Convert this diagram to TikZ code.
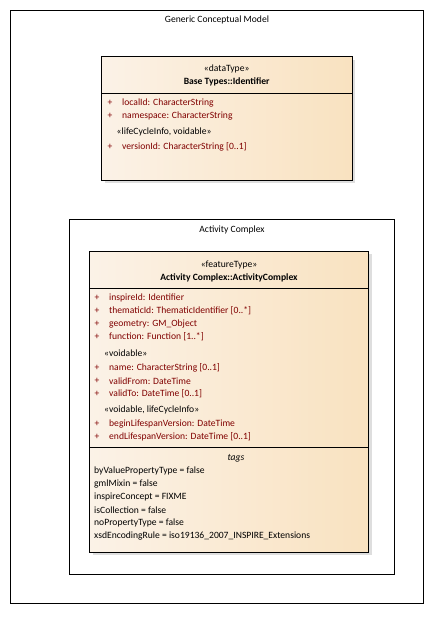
\documentclass[tikz,border=0pt]{standalone}
\usepackage{fontspec}
\setmainfont{Carlito}
\usetikzlibrary{calc}
\definecolor{attrred}{RGB}{128,0,0}
\definecolor{boxleft}{RGB}{251,242,231}
\definecolor{boxright}{RGB}{249,226,192}
\tikzset{
	frame/.style={draw=black, line width=0.9pt},
	classbox/.style={draw=black, line width=0.9pt, left color=boxleft, right color=boxright},
	shadowbox/.style={fill=black!13},
	divider/.style={draw=black, line width=0.9pt},
	txt/.style={inner sep=0pt, font=\fontsize{9.6}{11}\selectfont},
	attr/.style={txt, anchor=west, text=attrred},
	plain/.style={txt, anchor=west},
}
\newcommand{\attrline}[4]{%
	\node[attr] (p#1) at (#2, #3) {+};
	\node[attr] (a#1) at ($(p#1.west)+(14.5,0)$) {#4};
}

\begin{document}
\begin{tikzpicture}[x=1pt, y=-1pt]
		%%%%% START %%%%%
		\useasboundingbox (0, 0) rectangle (434, 633);
		
		% outer package
		\draw[frame] (10.5, 10.5) rectangle (423.5, 603);
		\node[txt] (gcm) at (217, 20) {Generic Conceptual Model};
		
		% data type Identifier
		\fill[shadowbox] (104.5, 59.5) rectangle (355, 183);
		\draw[classbox] (101.5, 56.5) rectangle (352, 180);
		\draw[divider] (101.5, 93) -- (352, 93);
		\node[txt] (dtst) at (226.7, 69) {«dataType»};
		\node[txt, font=\fontsize{9.6}{11}\selectfont\bfseries] (dtname) at (226.7, 82) {Base Types::Identifier};
		\attrline{1}{107.5}{103}{localId: CharacterString}
		\attrline{2}{107.5}{116}{namespace: CharacterString}
		\node[plain] (dtlc) at (116.5, 132) {«lifeCycleInfo, voidable»};
		\attrline{3}{107.5}{147}{versionId: CharacterString [0..1]}
		
		% inner package
		\draw[frame] (69.5, 219.5) rectangle (394.5, 574);
		\node[txt] (ac) at (232, 230) {Activity Complex};
		
		% feature type ActivityComplex
		\fill[shadowbox] (92.5, 254) rectangle (371.5, 555);
		\draw[classbox] (89.5, 251) rectangle (368.5, 552);
		\draw[divider] (89.5, 288.5) -- (368.5, 288.5);
		\draw[divider] (89.5, 447.5) -- (368.5, 447.5);
		\node[txt] (ftst) at (229, 265) {«featureType»};
		\node[txt, font=\fontsize{9.6}{11}\selectfont\bfseries] (ftname) at (229, 277.5) {Activity Complex::ActivityComplex};
		\attrline{4}{94.5}{298}{inspireId: Identifier}
		\attrline{5}{94.5}{311}{thematicId: ThematicIdentifier [0..*]}
		\attrline{6}{94.5}{324}{geometry: GM\_Object}
		\attrline{7}{94.5}{337}{function: Function [1..*]}
		\node[plain] (ftvd) at (104, 353) {«voidable»};
		\attrline{8}{94.5}{368}{name: CharacterString [0..1]}
		\attrline{9}{94.5}{381}{validFrom: DateTime}
		\attrline{10}{94.5}{394}{validTo: DateTime [0..1]}
		\node[plain] (ftlc) at (104, 410) {«voidable, lifeCycleInfo»};
		\attrline{11}{94.5}{424}{beginLifespanVersion: DateTime}
		\attrline{12}{94.5}{437}{endLifespanVersion: DateTime [0..1]}
		
		% tags
		\node[txt, font=\fontsize{9.6}{11}\selectfont\itshape] (tags) at (236, 458) {tags};
		\node[plain] (t1) at (94, 471) {byValuePropertyType = false};
		\node[plain] (t2) at (94, 484) {gmlMixin = false};
		\node[plain] (t3) at (94, 497) {inspireConcept = FIXME};
		\node[plain] (t4) at (94, 510) {isCollection = false};
		\node[plain] (t5) at (94, 523) {noPropertyType = false};
		\node[plain] (t6) at (94, 536) {xsdEncodingRule = iso19136\_2007\_INSPIRE\_Extensions};
		
		%%%%% END %%%%%
	\end{tikzpicture}
\end{document}
